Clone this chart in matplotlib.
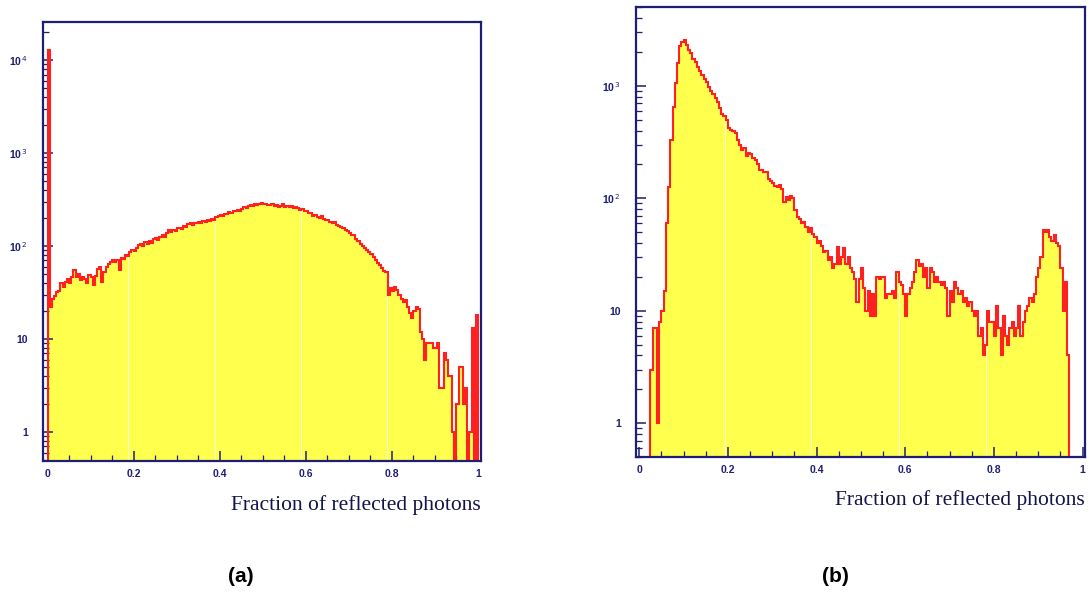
import matplotlib
matplotlib.use("Agg")
import matplotlib.pyplot as plt
import numpy as np
from matplotlib.ticker import FixedLocator, FixedFormatter, MultipleLocator, LogLocator, NullFormatter

# ---------------- data ----------------
edges_a = np.linspace(0.0, 1.0, 201)
counts_a = [
    13000, 22, 27, 29, 32, 33, 40, 36, 41, 44,
    40, 47, 55, 46, 50, 43, 47, 44, 40, 49,
    46, 38, 48, 56, 59, 41, 52, 59, 64, 67,
    70, 68, 71, 55, 74, 72, 80, 78, 86, 90,
    88, 96, 102, 106, 100, 110, 104, 112, 108, 118,
    121, 116, 124, 130, 126, 138, 148, 142, 150, 146,
    155, 158, 152, 163, 160, 172, 177, 170, 178, 175,
    182, 178, 186, 183, 190, 188, 196, 192, 205, 212,
    215, 208, 220, 224, 230, 226, 236, 240, 243, 238,
    250, 262, 256, 270, 275, 268, 280, 278, 284, 290,
    282, 286, 278, 275, 283, 270, 276, 262, 268, 280,
    265, 270, 262, 272, 258, 262, 255, 245, 250, 238,
    240, 228, 225, 212, 218, 205, 200, 208, 196, 190,
    193, 182, 176, 180, 168, 165, 160, 155, 150, 144,
    138, 130, 132, 118, 112, 106, 100, 96, 90, 86,
    82, 76, 70, 66, 62, 58, 54, 52, 30, 35,
    33, 36, 34, 30, 27, 25, 26, 22, 19, 17,
    20, 22, 21, 12, 10, 6, 9, 9, 9, 8,
    8, 9, 3, 3, 7, 6, 4, 4, 1, 0,
    2, 5, 5, 2, 3, 0, 1, 13, 0, 18,
]

edges_b = np.linspace(0.0, 1.0, 201)
counts_b = [
    0, 0, 0, 0, 0, 3, 7, 7, 1, 8,
    10, 15, 60, 126, 330, 650, 1050, 1600, 2250, 2450,
    2550, 2300, 2100, 1950, 1750, 1630, 1480, 1360, 1250, 1150,
    1080, 980, 900, 840, 780, 720, 640, 560, 540, 500,
    420, 405, 400, 380, 330, 300, 270, 280, 240, 255,
    250, 230, 218, 200, 178, 180, 172, 170, 150, 142,
    138, 128, 126, 130, 122, 93, 102, 96, 104, 100,
    78, 68, 66, 60, 62, 55, 50, 54, 48, 45,
    40, 42, 38, 33, 34, 28, 30, 24, 26, 37,
    26, 30, 36, 26, 30, 24, 22, 19, 12, 19,
    24, 16, 10, 15, 9, 14, 9, 20, 19, 20,
    20, 13, 14, 14, 15, 13, 22, 18, 17, 14,
    9, 14, 16, 18, 22, 28, 25, 26, 20, 24,
    16, 24, 22, 18, 20, 18, 17, 18, 16, 9,
    15, 12, 18, 16, 14, 15, 12, 13, 11, 12,
    10, 9, 10, 6, 7, 4, 5, 10, 8, 8,
    6, 11, 7, 4, 9, 6, 5, 7, 8, 6,
    7, 11, 6, 8, 10, 11, 13, 12, 14, 20,
    24, 30, 52, 50, 52, 45, 42, 47, 40, 38,
    24, 10, 18, 4, 0, 0, 0, 0, 0, 0,
]

x_ticks = [0, 0.2, 0.4, 0.6, 0.8, 1.0]
x_tick_labels = ["0", "0.2", "0.4", "0.6", "0.8", "1"]
y_ticks_a = [1, 10, 100, 1000, 10000]
y_tick_labels_a = ["1", "10", "10$^{\\,2}$", "10$^{\\,3}$", "10$^{\\,4}$"]
y_ticks_b = [1, 10, 100, 1000]
y_tick_labels_b = ["1", "10", "10$^{\\,2}$", "10$^{\\,3}$"]
xlabel = "Fraction of reflected photons"
panel_labels = ["(a)", "(b)"]

# ---------------- style ----------------
W, H = 1089, 594
YELLOW = "#ffff4d"
RED = "#ff2020"
NAVY = "#1e1e72"
GRIDC = "#ffffc0"
FLOOR = 1e-2

fig = plt.figure(figsize=(W / 100, H / 100), dpi=100)


def make_axes(l, t, r, b):
    return fig.add_axes([l / W, 1 - b / H, (r - l) / W, (b - t) / H])


def draw(ax, counts, edges, xlim, ylim, yt, ytl, gridx):
    v = np.asarray(counts, dtype=float)
    vp = np.where(v > 0, v, FLOOR)
    ax.set_yscale("log")
    ax.stairs(vp, edges, fill=True, color=YELLOW, baseline=FLOOR, lw=0, zorder=1)
    # faint grid lines visible only inside the filled area
    for gx in gridx:
        idx = min(max(np.searchsorted(edges, gx) - 1, 0), len(vp) - 1)
        ax.vlines(gx, FLOOR, vp[idx], color=GRIDC, lw=0.9, zorder=1.5)
    ax.stairs(vp, edges, baseline=FLOOR, color=RED, lw=1.5, zorder=2)
    ax.set_xlim(*xlim)
    ax.set_ylim(*ylim)
    ax.xaxis.set_major_locator(FixedLocator(x_ticks))
    ax.xaxis.set_major_formatter(FixedFormatter(x_tick_labels))
    ax.xaxis.set_minor_locator(MultipleLocator(0.05))
    ax.yaxis.set_major_locator(FixedLocator(yt))
    ax.yaxis.set_major_formatter(FixedFormatter(ytl))
    ax.yaxis.set_minor_locator(LogLocator(base=10, subs=np.arange(2, 10)))
    ax.yaxis.set_minor_formatter(NullFormatter())
    ax.tick_params(which="both", direction="in", colors=NAVY, top=False, right=False,
                   labelcolor=NAVY)
    ax.tick_params(which="major", length=7, width=1.1, labelsize=7.5, pad=6)
    ax.tick_params(axis="y", which="major", pad=11)
    ax.tick_params(which="minor", length=4, width=0.9)
    for lab in ax.get_xticklabels() + ax.get_yticklabels():
        lab.set_fontfamily("Liberation Sans")
        lab.set_fontweight("bold")
    for sp in ax.spines.values():
        sp.set_color(NAVY)
        sp.set_linewidth(1.6)
    ax.set_facecolor("white")


ax_a = make_axes(43, 22, 481, 461)
draw(ax_a, counts_a, edges_a, (-0.0105, 1.007), (0.488, 2.57e4),
     y_ticks_a, y_tick_labels_a, [0.188, 0.388, 0.588, 0.788])

ax_b = make_axes(636, 7, 1085, 457)
draw(ax_b, counts_b, edges_b, (-0.0074, 1.0056), (0.5, 5030),
     y_ticks_b, y_tick_labels_b, [0.193, 0.388, 0.585, 0.782])

fig.text(481 / W, 1 - 505 / H, xlabel, ha="right", va="center",
         fontsize=15.5, family="Liberation Serif", color="#14144a")
fig.text(1085 / W, 1 - 500 / H, xlabel, ha="right", va="center",
         fontsize=15.5, family="Liberation Serif", color="#14144a")

fig.text(241 / W, 1 - 577 / H, panel_labels[0], ha="center", va="center",
         fontsize=15, fontweight="bold", family="Liberation Sans", color="black")
fig.text(835 / W, 1 - 577 / H, panel_labels[1], ha="center", va="center",
         fontsize=15, fontweight="bold", family="Liberation Sans", color="black")

fig.savefig("out.png", dpi=100, facecolor="white")
